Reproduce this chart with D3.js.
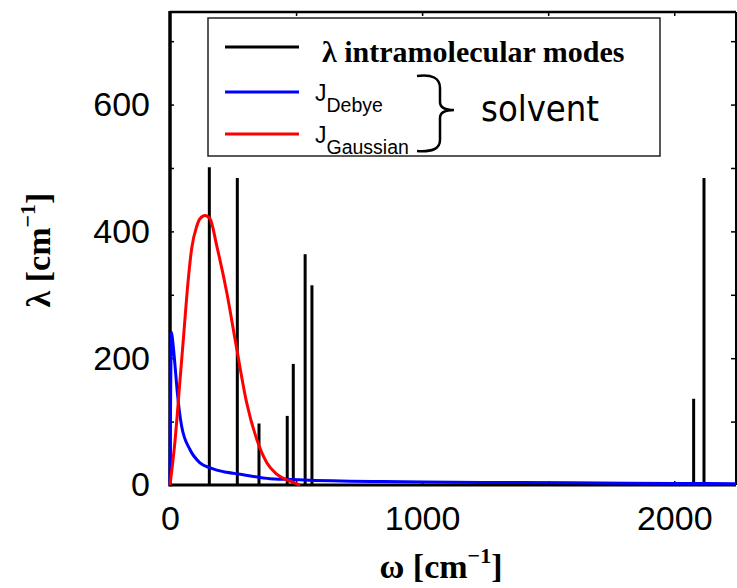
<!DOCTYPE html>
<html>
<head>
<meta charset="utf-8">
<script src="https://cdn.jsdelivr.net/npm/d3@7"></script>
<style>
  body { margin: 0; background: #fff; }
  svg { display: block; }
  .tick-lab text { font-family: "Liberation Sans", Arial, sans-serif; font-size: 34px; fill: #000; }
</style>
</head>
<body>
<div id="chart"></div>
<script>
// intramolecular modes (stick spectrum)
const modeFreq = [156, 267, 353, 465, 489, 536, 563, 2077, 2118];
const modeLambda = [501, 484, 97, 109, 191, 364, 315, 136, 484];

// solvent spectral densities
const debyeW = [0, 6, 12, 20, 29, 46, 79, 119, 159, 225, 278, 397, 450, 714, 846, 1243, 1587, 2000, 2245];
const debyeL = [0, 241, 222, 188, 146, 93, 56, 35, 27, 20, 17, 10, 9, 6, 5.5, 4, 3.5, 2.5, 2];

const gaussW = [0, 20, 40, 55, 71, 86, 106, 119, 139, 159, 185, 225, 265, 304, 344, 384, 423, 476, 516];
const gaussL = [0, 70, 167, 240, 318, 373, 408, 420, 425, 420, 378, 304, 214, 130, 72, 35, 17, 6, 0];

// axes
const xLabelTicks = [0, 1000, 2000];
const xMinorTicks = [500, 1000, 1500, 2000];
const yLabelTicks = [0, 200, 400, 600];
const yMinorTicks = [100, 200, 300, 400, 500, 600, 700];

const W = 737, H = 588;
const svg = d3.select("#chart").append("svg").attr("width", W).attr("height", H);

const x = d3.scaleLinear().domain([0, 2245]).range([170, 736]);
const y = d3.scaleLinear().domain([0, 746]).range([485, 12]);

// inner tick marks
svg.append("g").attr("transform", `translate(${x(0)},0)`)
  .call(d3.axisRight(y).tickValues(yMinorTicks).tickSize(4).tickFormat(""))
  .call(g => g.select(".domain").remove())
  .selectAll("line").attr("stroke-width", 1.5);
svg.append("g").attr("transform", `translate(${x.range()[1]},0)`)
  .call(d3.axisLeft(y).tickValues(yMinorTicks).tickSize(5).tickFormat(""))
  .call(g => g.select(".domain").remove())
  .selectAll("line").attr("stroke-width", 1.5);
svg.append("g").attr("transform", `translate(0,${y.range()[1]})`)
  .call(d3.axisBottom(x).tickValues(xMinorTicks).tickSize(4).tickFormat(""))
  .call(g => g.select(".domain").remove())
  .selectAll("line").attr("stroke-width", 1.5);
svg.append("g").attr("transform", `translate(0,${y(0)})`)
  .call(d3.axisTop(x).tickValues(xMinorTicks).tickSize(4).tickFormat(""))
  .call(g => g.select(".domain").remove())
  .selectAll("line").attr("stroke-width", 1.5);

// tick labels
svg.append("g").attr("class", "tick-lab").attr("transform", `translate(${x(0)},0)`)
  .call(d3.axisLeft(y).tickValues(yLabelTicks).tickSize(0).tickPadding(20).tickFormat(d3.format("d")))
  .call(g => g.select(".domain").remove());
svg.append("g").attr("class", "tick-lab").attr("transform", `translate(0,${y(0)})`)
  .call(d3.axisBottom(x).tickValues(xLabelTicks).tickSize(0).tickPadding(21).tickFormat(d3.format("d")))
  .call(g => g.select(".domain").remove());
svg.selectAll(".tick-lab text").attr("font-family", null).attr("font-size", null);

// sticks
svg.append("g").selectAll("line")
  .data(modeFreq)
  .join("line")
  .attr("x1", (d) => x(d)).attr("x2", (d) => x(d))
  .attr("y1", y(0)).attr("y2", (d, i) => y(modeLambda[i]))
  .attr("stroke", "#000").attr("stroke-width", 3);

// frame
const fr = svg.append("g").attr("stroke", "#000");
fr.append("line").attr("x1", x(0)).attr("x2", x(0)).attr("y1", y.range()[1] - 1).attr("y2", y(0) + 1.5).attr("stroke-width", 3.5);
fr.append("line").attr("x1", x(0)).attr("x2", x.range()[1]).attr("y1", y(0)).attr("y2", y(0)).attr("stroke-width", 3);
fr.append("line").attr("x1", x(0)).attr("x2", x.range()[1]).attr("y1", y.range()[1]).attr("y2", y.range()[1]).attr("stroke-width", 2.5);
fr.append("line").attr("x1", x.range()[1]).attr("x2", x.range()[1]).attr("y1", y.range()[1]).attr("y2", y(0)).attr("stroke-width", 2);

// curves
const line = d3.line().x((d) => x(d[0])).y((d) => y(d[1])).curve(d3.curveMonotoneX);
svg.append("path").datum(d3.zip(debyeW, debyeL))
  .attr("d", line).attr("fill", "none").attr("stroke", "#0000ff").attr("stroke-width", 3);
svg.append("path").datum(d3.zip(gaussW, gaussL))
  .attr("d", line).attr("fill", "none").attr("stroke", "#ff0000").attr("stroke-width", 3);

// legend
const lg = svg.append("g");
lg.append("rect").attr("x", 208).attr("y", 18).attr("width", 452).attr("height", 138)
  .attr("fill", "#fff").attr("stroke", "#222").attr("stroke-width", 1.5);
[["#000", 47], ["#0000ff", 92], ["#ff0000", 134]].forEach(([c, yy]) => {
  lg.append("line").attr("x1", 225).attr("x2", 299).attr("y1", yy).attr("y2", yy)
    .attr("stroke", c).attr("stroke-width", 3);
});
lg.append("text").attr("x", 322).attr("y", 62)
  .attr("font-family", "'Liberation Serif', 'Times New Roman', serif")
  .attr("font-weight", "bold").attr("font-size", 30)
  .text("λ intramolecular modes");

function jLabel(yb, sub, subY) {
  const t = lg.append("text").attr("x", 315).attr("y", yb)
    .attr("font-family", "'Liberation Sans', Arial, sans-serif").attr("font-size", 23);
  t.append("tspan").text("J");
  t.append("tspan").attr("font-size", 19.5).attr("dy", subY).text(sub);
}
jLabel(101, "Debye", 11);
jLabel(143, "Gaussian", 11);

lg.append("path")
  .attr("d", "M417,76 C432,74 440,78 440,88 L440,102 C440,108 446,110 454,110 C446,110 440,112 440,118 L440,140 C440,149 432,152 417,151")
  .attr("fill", "none").attr("stroke", "#000").attr("stroke-width", 2.5);
lg.append("text").attr("x", 481).attr("y", 121)
  .attr("font-family", "'DejaVu Sans Condensed', 'DejaVu Sans', sans-serif")
  .attr("font-stretch", "condensed").attr("font-size", 36)
  .text("solvent");

// axis titles
const yt = svg.append("text")
  .attr("transform", "translate(50,250) rotate(-90)")
  .attr("text-anchor", "middle")
  .attr("font-family", "'Liberation Serif', 'Times New Roman', serif")
  .attr("font-weight", "bold").attr("font-size", 34);
yt.append("tspan").text("λ [cm");
yt.append("tspan").attr("font-size", 22).attr("dy", -15).text("−1");
yt.append("tspan").attr("dy", 15).text("]");

const xt = svg.append("text")
  .attr("x", 441).attr("y", 578)
  .attr("text-anchor", "middle")
  .attr("font-family", "'Liberation Serif', 'Times New Roman', serif")
  .attr("font-weight", "bold").attr("font-size", 34);
xt.append("tspan").text("ω [cm");
xt.append("tspan").attr("font-size", 22).attr("dy", -15).text("−1");
xt.append("tspan").attr("dy", 15).text("]");
</script>
</body>
</html>
